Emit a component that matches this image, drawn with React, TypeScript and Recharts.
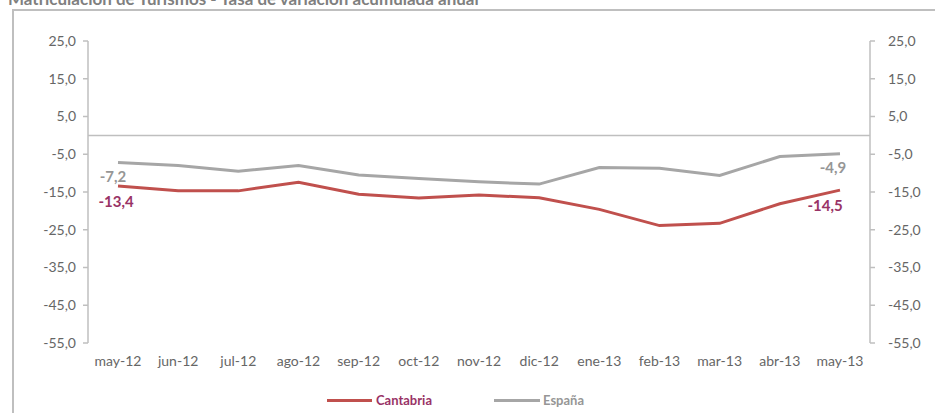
import { Line, LineChart, XAxis, YAxis, ReferenceLine, Legend, LabelList } from "recharts";

const meses = [
  "may-12", "jun-12", "jul-12", "ago-12", "sep-12", "oct-12", "nov-12",
  "dic-12", "ene-13", "feb-13", "mar-13", "abr-13", "may-13",
];
const cantabria = [-13.4, -14.7, -14.7, -12.4, -15.6, -16.6, -15.8, -16.5, -19.6, -23.9, -23.3, -18.1, -14.5];
const espana = [-7.2, -8.0, -9.5, -8.0, -10.5, -11.4, -12.3, -12.9, -8.5, -8.7, -10.6, -5.6, -4.9];
const ticksY = [-55, -45, -35, -25, -15, -5, 5, 15, 25];

const data = meses.map((mes, i) => ({ mes, cantabria: cantabria[i], espana: espana[i] }));

const FONT = "Lato, 'Open Sans', sans-serif";
const ROJO = "#C0504D";
const MORADO = "#993366";
const GRIS = "#A6A6A6";
const GRIS_TXT = "#969696";
const EJE = "#BFBFBF";
const TXT = "#666666";

const fmt = (v: number) => v.toFixed(1).replace(".", ",");

function etiqueta(color: string, offs: Record<number, [number, number]>) {
  return (props: any) => {
    const { x, y, value, index } = props;
    const o = offs[index];
    if (!o) return null;
    return (
      <text
        x={x + o[0]}
        y={y + o[1]}
        fill={color}
        fontSize={15}
        fontWeight="bold"
        fontFamily={FONT}
        textAnchor="middle"
        dominantBaseline="central"
      >
        {fmt(Number(value))}
      </text>
    );
  };
}

function Leyenda() {
  return (
    <div style={{ position: "relative", height: 30, width: 935, fontFamily: FONT }}>
      <div style={{ position: "absolute", left: 327, top: 16, width: 45, height: 3, background: ROJO }} />
      <div style={{ position: "absolute", left: 376, top: 9, fontSize: 13, fontWeight: "bold", color: MORADO, lineHeight: "16px" }}>
        Cantabria
      </div>
      <div style={{ position: "absolute", left: 494, top: 16, width: 46, height: 3, background: GRIS }} />
      <div style={{ position: "absolute", left: 543, top: 9, fontSize: 13, fontWeight: "bold", color: GRIS_TXT, lineHeight: "16px" }}>
        España
      </div>
    </div>
  );
}

export default function App() {
  return (
    <div style={{ position: "absolute", left: 0, top: 0, width: 935, height: 413, overflow: "hidden", background: "#fff" }}>
      <div
        style={{
          position: "absolute", left: 8, top: -10, fontFamily: FONT, fontSize: 17,
          fontWeight: "bold", color: "#7F7F7F", lineHeight: "17px", whiteSpace: "nowrap",
        }}
      >
        Matriculación de Turismos - Tasa de variación acumulada anual
      </div>
      <div
        style={{
          position: "absolute", left: 12, top: 9, width: 960, height: 420,
          borderTop: `2px solid ${EJE}`, borderLeft: `2px solid ${EJE}`,
        }}
      />
      <div style={{ position: "absolute", left: 0, top: 0 }}>
        <LineChart width={935} height={413} data={data} margin={{ top: 41, right: 0, bottom: 0, left: 0 }}>
          <XAxis
            dataKey="mes"
            axisLine={false}
            tickLine={false}
            tickMargin={7}
            height={40}
            padding={{ left: 30, right: 30 }}
            interval={0}
            tick={{ fontSize: 14, fill: TXT, fontFamily: FONT }}
          />
          <YAxis
            yAxisId="left"
            width={88}
            domain={[-55, 25]}
            ticks={ticksY}
            tickFormatter={fmt}
            stroke={EJE}
            strokeWidth={1.5}
            tickSize={5}
            tickMargin={7}
            tick={{ fontSize: 14, fill: TXT, fontFamily: FONT }}
          />
          <YAxis
            yAxisId="right"
            orientation="right"
            width={65}
            domain={[-55, 25]}
            ticks={ticksY}
            tickFormatter={fmt}
            stroke={EJE}
            strokeWidth={1.5}
            tickSize={5}
            tickMargin={13}
            tick={{ fontSize: 14, fill: TXT, fontFamily: FONT, textAnchor: "start" }}
          />
          <ReferenceLine yAxisId="left" y={0} stroke={EJE} strokeWidth={1.5} />
          <Legend verticalAlign="bottom" content={() => <Leyenda />} />
          <Line
            yAxisId="right"
            type="linear"
            dataKey="espana"
            name="España"
            stroke={GRIS}
            strokeWidth={3}
            dot={false}
            isAnimationActive={false}
          >
            <LabelList dataKey="espana" content={etiqueta(GRIS_TXT, { 0: [-5, 13], 12: [-7, 13] })} />
          </Line>
          <Line
            yAxisId="left"
            type="linear"
            dataKey="cantabria"
            name="Cantabria"
            stroke={ROJO}
            strokeWidth={3}
            dot={false}
            isAnimationActive={false}
          >
            <LabelList dataKey="cantabria" content={etiqueta(MORADO, { 0: [-2, 15], 12: [-15, 15] })} />
          </Line>
        </LineChart>
      </div>
    </div>
  );
}
